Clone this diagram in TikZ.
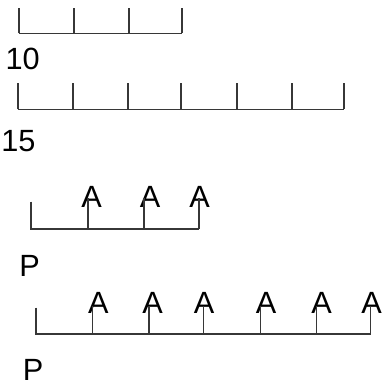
\documentclass[tikz,border=0pt]{standalone}
\usepackage{fontspec}
\setmainfont{Liberation Sans}
\definecolor{axisgray}{RGB}{55,55,55}
\begin{document}
\begin{tikzpicture}[x=1pt,y=-1pt,
  axis/.style={draw=axisgray,line width=1.2pt},
  lbl/.style={inner sep=0pt,anchor=base,font=\fontsize{30.7}{36}\selectfont,text=black}]
\useasboundingbox (0,0) rectangle (382,383);
% row 1
\coordinate (r1s) at (19,33.3);
\coordinate (r1e) at (182,33.3);
\draw[axis] (r1s) -- (r1e);
\foreach \x [count=\i] in {19,74,129,182}{
  \coordinate (r1t\i) at (\x,8);
  \coordinate (r1b\i) at (\x,33.3);
  \draw[axis] (r1b\i) -- (r1t\i);
}
\node[lbl] (n10) at (22.7,69.4) {10};
% row 2
\coordinate (r2s) at (18,109.3);
\coordinate (r2e) at (344,109.3);
\draw[axis] (r2s) -- (r2e);
\foreach \x [count=\i] in {18,73,128,181,237,292,344}{
  \coordinate (r2t\i) at (\x,83.3);
  \coordinate (r2b\i) at (\x,109.3);
  \draw[axis] (r2b\i) -- (r2t\i);
}
\node[lbl] (n15) at (18.5,151.8) {15};
% row 3
\coordinate (r3t0) at (31,201.7);
\coordinate (r3s) at (31,229);
\coordinate (r3e) at (199,229);
\draw[axis] (r3t0) -- (r3s) -- (r3e);
\foreach \x/\c [count=\i] in {88/91.5,144/150,199/199.7}{
  \node[lbl] (r3a\i) at (\c,207.5) {A};
  \coordinate (r3b\i) at (\x,229);
  \coordinate (r3h\i) at (\x,197.5);
  \draw[axis] (r3b\i) -- (r3h\i);
}
\node[lbl] (p3) at (29.5,276.8) {P};
% row 4
\coordinate (r4t0) at (36,307.7);
\coordinate (r4s) at (36,334);
\coordinate (r4e) at (370.7,334);
\draw[axis] (r4t0) -- (r4s) -- (r4e);
\foreach \x/\c [count=\i] in {92.7/98.3,149/152.5,203.3/204,260.7/266,316.7/321.7,370.7/371.5}{
  \node[lbl] (r4a\i) at (\c,313.5) {A};
  \coordinate (r4b\i) at (\x,334);
  \coordinate (r4h\i) at (\x,305.5);
  \draw[axis] (r4b\i) -- (r4h\i);
}
\node[lbl] (p4) at (33,380) {P};
\end{tikzpicture}
\end{document}
